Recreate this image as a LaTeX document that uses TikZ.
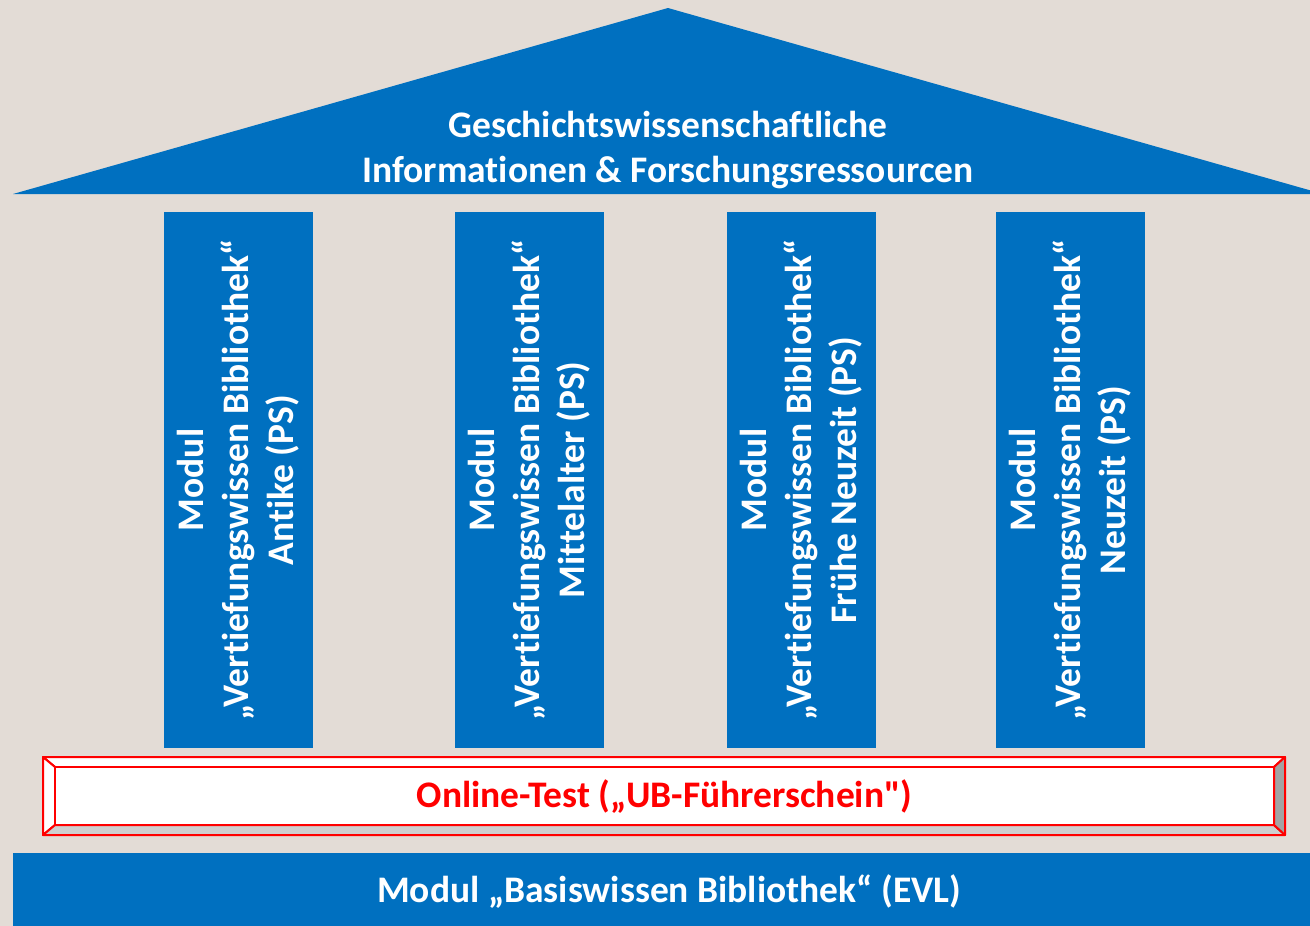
\documentclass[tikz,border=0pt]{standalone}
\usepackage{fontspec}
\setmainfont[Ligatures={TeXOff,NoCommon}]{Carlito}
\usepackage{tikz}

\definecolor{bg}{HTML}{E3DCD6}
\definecolor{ubblue}{HTML}{0070C0}
\definecolor{ubred}{HTML}{FF0000}
\definecolor{lightface}{HTML}{CFCFCF}
\definecolor{darkface}{HTML}{A3A3A3}

\tikzset{
  pillar/.style={fill=ubblue, draw=none, minimum width=149pt, minimum height=536pt, inner sep=0pt},
  bigtext/.style={font=\fontsize{37.5}{45}\selectfont\bfseries, inner sep=0pt},
  pillartext/.style={bigtext, text=white, align=center, rotate=90},
  facet/.style={draw=ubred, line width=2pt, line join=round}
}

\begin{document}
\begin{tikzpicture}[x=1pt,y=-1pt]
				\useasboundingbox (0,0) rectangle (1310,926);
				\clip (0,0) rectangle (1310,926);
				\fill[bg](0,0) rectangle (1310,926);
				% roof
				\fill[ubblue](13,194) -- (668,8) -- (1323,194) -- cycle;
				\node[bigtext, text=white, align=center] (roof) at (668,150)
				  {Geschichtswissenschaftliche\\Informationen \& Forschungsressourcen};
				% pillars
				\node[pillar] (antike) at (238.5,480) {};
				\node[pillar] (mittelalter) at (529.5,480) {};
				\node[pillar] (fruehe) at (801.5,480) {};
				\node[pillar] (neuzeit) at (1070.5,480) {};
				\node[pillartext] at (antike) {Modul\\„Vertiefungswissen Bibliothek“\\Antike (PS)};
				\node[pillartext] at (mittelalter) {Modul\\„Vertiefungswissen Bibliothek“\\Mittelalter (PS)};
				\node[pillartext] at (fruehe) {Modul\\„Vertiefungswissen Bibliothek“\\Frühe Neuzeit (PS)};
				\node[pillartext] at (neuzeit) {Modul\\„Vertiefungswissen Bibliothek“\\Neuzeit (PS)};
				% online test, bevelled box
				\coordinate (o1) at (43,757);
				\coordinate (o2) at (1285,757);
				\coordinate (o3) at (1285,835);
				\coordinate (o4) at (43,835);
				\coordinate (i1) at (55,767);
				\coordinate (i2) at (1274,767);
				\coordinate (i3) at (1274,825);
				\coordinate (i4) at (55,825);
				\draw[facet, fill=white](o1) -- (o2) -- (i2) -- (i1) -- cycle;
				\draw[facet, fill=white](o1) -- (i1) -- (i4) -- (o4) -- cycle;
				\draw[facet, fill=lightface](o4) -- (i4) -- (i3) -- (o3) -- cycle;
				\draw[facet, fill=darkface](o2) -- (o3) -- (i3) -- (i2) -- cycle;
				\draw[facet, fill=white](i1) rectangle (i3);
				\node[bigtext, text=ubred] (test) at (664.5,797)
				  {Online-Test („UB-Führerschein")};
				% base
				\fill[ubblue](13,853) rectangle (1320,930);
				\node[bigtext, text=white] (basis) at (669,892)
				  {Modul „Basiswissen Bibliothek“ (EVL)};
\end{tikzpicture}
\end{document}
